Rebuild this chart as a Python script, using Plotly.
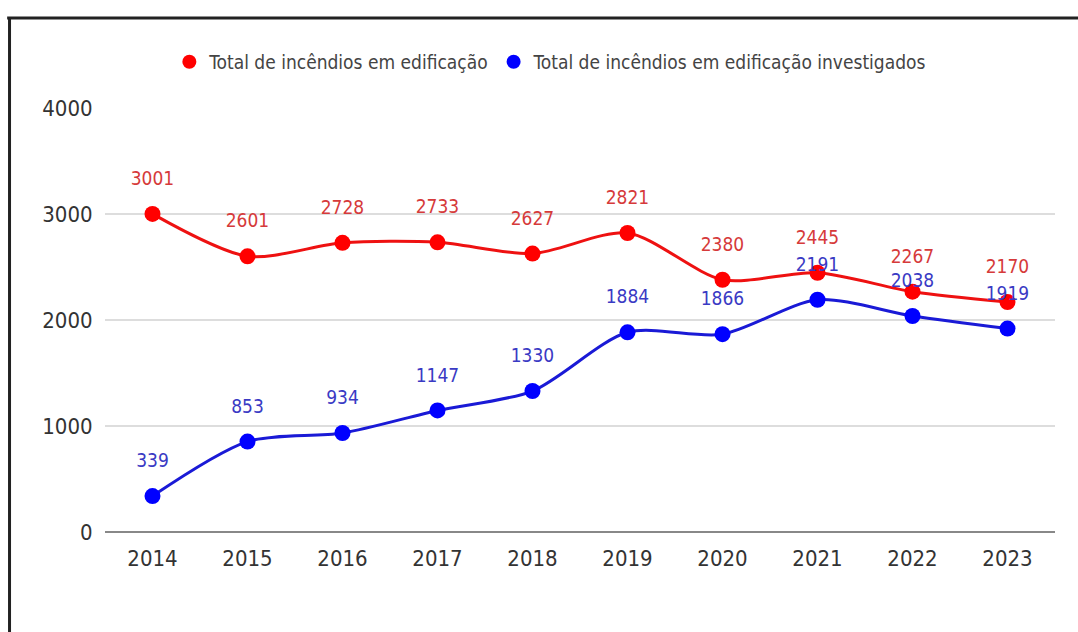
import plotly.graph_objects as go

years = ["2014", "2015", "2016", "2017", "2018", "2019", "2020", "2021", "2022", "2023"]
total = [3001, 2601, 2728, 2733, 2627, 2821, 2380, 2445, 2267, 2170]
investigados = [339, 853, 934, 1147, 1330, 1884, 1866, 2191, 2038, 1919]
y_ticks = [0, 1000, 2000, 3000, 4000]

name_total = "Total de incêndios em edificação"
name_inv = "Total de incêndios em edificação investigados"

FONT = "DejaVu Sans Condensed, sans-serif"
RED = "#ff0000"
BLUE = "#0000ff"

fig = go.Figure()
series = [
    (total, "#ee1111", RED, "#d63a3a", name_total),
    (investigados, "#1a1ad6", BLUE, "#3a3ac4", name_inv),
]
for vals, lcol, mcol, tcol, nm in series:
    fig.add_trace(go.Scatter(
        x=years, y=vals, mode="lines+markers", name=nm, showlegend=False,
        line=dict(color=lcol, width=3, shape="spline", smoothing=0.8),
        marker=dict(color=mcol, size=16),
        hoverinfo="x+y",
    ))
# data labels (transparent markers only set the label offset)
for vals, lcol, mcol, tcol, nm in series:
    fig.add_trace(go.Scatter(
        x=years, y=vals, mode="markers+text", showlegend=False,
        text=[str(v) for v in vals], textposition="top center",
        textfont=dict(family=FONT, size=19, color=tcol),
        marker=dict(color="rgba(0,0,0,0)", size=37),
        hoverinfo="skip", cliponaxis=False,
    ))
for vals, lcol, mcol, tcol, nm in series:
    fig.add_trace(go.Scatter(
        x=[None], y=[None], mode="markers", name=nm,
        marker=dict(color=mcol, size=14),
    ))

shapes = [
    dict(type="line", xref="paper", yref="paper", x0=-0.103, x1=1.03, y0=1.2123, y1=1.2123,
         line=dict(color="#222222", width=3)),
    dict(type="line", xref="paper", yref="paper", x0=-0.1005, x1=-0.1005, y0=1.2123, y1=-0.25,
         line=dict(color="#222222", width=3)),
]

fig.update_layout(
    width=1078, height=632,
    margin=dict(l=105, r=23, t=108, b=100, autoexpand=False),
    plot_bgcolor="white", paper_bgcolor="white",
    font=dict(family=FONT, color="#333333"),
    showlegend=True,
    shapes=shapes,
    legend=dict(orientation="h", xref="container", yref="container",
                x=0.511, xanchor="center", y=0.902, yanchor="middle",
                font=dict(family=FONT, size=19, color="#444444"),
                bgcolor="rgba(0,0,0,0)"),
    xaxis=dict(type="category", range=[-0.5, 9.5], showgrid=False, zeroline=False,
               showline=False, ticks="outside", ticklen=7, tickcolor="white",
               tickfont=dict(family=FONT, size=22, color="#333333")),
    yaxis=dict(range=[0, 4000], tickvals=y_ticks, showgrid=True, gridcolor="#dddddd",
               gridwidth=1.5, zeroline=True, zerolinecolor="#888888", zerolinewidth=2,
               ticks="outside", ticklen=7, tickcolor="white",
               tickfont=dict(family=FONT, size=22, color="#333333")),
)

fig.write_html("out.html", config={"displayModeBar": False},
               post_script="document.body.style.margin='0';")
